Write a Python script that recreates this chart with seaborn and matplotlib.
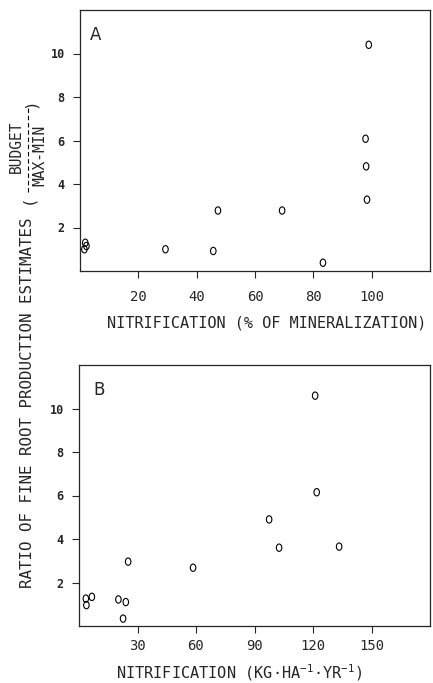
import numpy as np
import pandas as pd
import matplotlib
matplotlib.use("Agg")
import matplotlib.pyplot as plt
import seaborn as sns
from matplotlib.path import Path
from matplotlib.lines import Line2D

# Panel A: nitrification as % of mineralization
nit_pct = [1.5, 1.8, 2.2, 29.3, 45.7, 47.3, 69.3, 83.3, 97.9, 98.1, 98.4, 99.0]
ratio_a = [1.0, 1.3, 1.15, 1.0, 0.92, 2.78, 2.78, 0.38, 6.08, 4.81, 3.28, 10.4]

# Panel B: nitrification in kg/ha/yr
nit_kg = [3.5, 3.8, 6.6, 20.2, 22.6, 24.0, 25.2, 58.5, 97.5, 102.6, 121.1, 121.9, 133.4]
ratio_b = [1.26, 0.96, 1.34, 1.22, 0.34, 1.10, 2.96, 2.68, 4.9, 3.6, 10.59, 6.15, 3.65]

yticks = [2, 4, 6, 8, 10]
xticks_a = [20, 40, 60, 80, 100]
xticks_b = [30, 60, 90, 120, 150]

sns.set_style("ticks")
plt.rcParams["font.family"] = ["DejaVu Sans Mono", "DejaVu Sans"]
plt.rcParams["mathtext.fontset"] = "custom"
plt.rcParams["mathtext.rm"] = "DejaVu Sans Mono"
plt.rcParams["mathtext.default"] = "rm"

# letter-"o" shaped marker (slightly taller than wide)
circ = Path.unit_circle()
o_marker = Path(circ.vertices * np.array([0.75, 1.0]), circ.codes)

df_a = pd.DataFrame({"x": nit_pct, "y": ratio_a})
df_b = pd.DataFrame({"x": nit_kg, "y": ratio_b})

fig = plt.figure(figsize=(4.33, 6.83), dpi=100)
ax_a = fig.add_axes([80 / 433, 1 - 271 / 683, 350 / 433, 261 / 683])
ax_b = fig.add_axes([79 / 433, 1 - 626 / 683, 351 / 433, 261 / 683])


def draw_panel(ax, df, xmax, xticks, letter, xpad):
    sns.scatterplot(data=df, x="x", y="y", ax=ax, marker=o_marker, s=28,
                    color="k", facecolor="none", edgecolor="k", linewidth=0.8)
    ax.set_xlim(0, xmax)
    ax.set_ylim(0, 12)
    ax.set_xticks(xticks)
    ax.set_yticks(yticks)
    ax.set_yticklabels([str(v) for v in yticks], fontsize=8.5, fontweight="bold")
    ax.set_xticklabels([str(v) for v in xticks], fontsize=10)
    ax.tick_params(axis="x", direction="out", length=5, width=0.8, pad=xpad)
    ax.tick_params(axis="y", direction="out", length=5, width=0.8, pad=6)
    for sp in ax.spines.values():
        sp.set_linewidth(0.9)
        sp.set_visible(True)
    ax.text(0.045 if letter == "A" else 0.057, 0.905, letter,
            transform=ax.transAxes, fontsize=12, fontfamily="DejaVu Sans",
            ha="center", va="center")
    ax.set_ylabel("")


draw_panel(ax_a, df_a, 120, xticks_a, "A", 9)
draw_panel(ax_b, df_b, 180, xticks_b, "B", 4)

ax_a.set_xlabel("NITRIFICATION (% OF MINERALIZATION)", fontsize=11)
ax_a.xaxis.set_label_coords(0.534, -0.199)
ax_a.xaxis.label.set_verticalalignment("center")

ax_b.set_xlabel("NITRIFICATION (KG·HA$^{-1}$·YR$^{-1}$)", fontsize=11)
ax_b.xaxis.set_label_coords(0.456, -0.18)
ax_b.xaxis.label.set_verticalalignment("center")

# shared y label with a BUDGET / MAX-MIN fraction
fig.text(28 / 433, 1 - 588 / 683, "RATIO OF FINE ROOT PRODUCTION ESTIMATES",
         rotation=90, fontsize=11.4, ha="center", va="bottom")
fig.text(28 / 433, 1 - 199 / 683, "(", rotation=90, fontsize=11.4,
         ha="center", va="center")
fig.text(30 / 433, 1 - 103 / 683, ")", rotation=90, fontsize=11.4,
         ha="center", va="center")
fig.add_artist(Line2D([28 / 433, 28 / 433], [1 - 192 / 683, 1 - 108 / 683],
                      transform=fig.transFigure, color="k", lw=0.8,
                      ls=(0, (4, 2.5))))
fig.text(16 / 433, 1 - 147 / 683, "BUDGET", rotation=90, fontsize=10.5,
         ha="center", va="center")
fig.text(40 / 433, 1 - 155 / 683, "MAX-MIN", rotation=90, fontsize=10.5,
         ha="center", va="center")

fig.savefig("out.png", dpi=100)
